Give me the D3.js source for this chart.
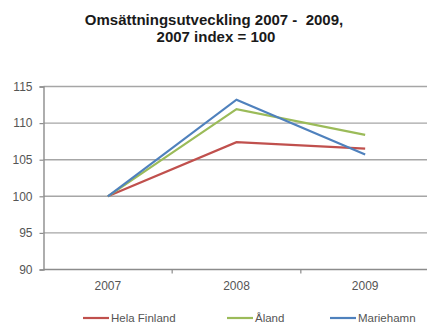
<!DOCTYPE html>
<html>
<head>
<meta charset="utf-8">
<script src="https://cdn.jsdelivr.net/npm/d3@7"></script>
<style>
  html, body { margin: 0; padding: 0; background: #fff; }
  svg { display: block; font-family: "Liberation Sans", Arial, sans-serif; }
</style>
</head>
<body>
<svg id="chart" width="427" height="324"></svg>
<script>
// Turnover development, index 2007 = 100
const years = ["2007", "2008", "2009"];
const helaFinland = [100, 107.4, 106.5];
const aland = [100, 111.9, 108.4];
const mariehamn = [100, 113.2, 105.7];
const yTicks = [90, 95, 100, 105, 110, 115];
const seriesNames = ["Hela Finland", "Åland", "Mariehamn"];

const series = [
  { name: seriesNames[0], values: helaFinland, color: "#C0504D" },
  { name: seriesNames[1], values: aland, color: "#9BBB59" },
  { name: seriesNames[2], values: mariehamn, color: "#4F81BD" }
];

const svg = d3.select("#chart");
const plot = { left: 43.5, right: 429.5, top: 86.5, bottom: 269.5 };

const x = d3.scaleBand().domain(years).range([plot.left, plot.right]);
const y = d3.scaleLinear().domain([90, 115]).range([plot.bottom, plot.top]);

// Title (two lines, spaces kept as typed)
const title = svg.append("text")
  .attr("text-anchor", "middle").style("white-space", "pre")
  .attr("font-weight", "bold").attr("font-size", 15).attr("fill", "#1a1a1a");
title.append("tspan").attr("x", 214).attr("y", 25).text("Omsättningsutveckling 2007 -  2009,");
title.append("tspan").attr("x", 216).attr("y", 42).text("2007 index = 100");

// Horizontal gridlines
svg.append("g").selectAll("line").data(yTicks.filter(d => d !== 90)).join("line")
  .attr("x1", plot.left).attr("x2", plot.right)
  .attr("y1", d => y(d)).attr("y2", d => y(d))
  .attr("stroke", "#a6a6a6").attr("stroke-width", 1.4);

// Y axis
const yAxis = svg.append("g").attr("transform", `translate(${plot.left},0)`)
  .call(d3.axisLeft(y).tickValues(yTicks).tickSize(4).tickPadding(7));
yAxis.select(".domain").attr("stroke", "#8c8c8c").attr("stroke-width", 1.4);
yAxis.selectAll(".tick line").attr("stroke", "#8c8c8c").attr("stroke-width", 1.2);
yAxis.selectAll("text").attr("font-size", 12).attr("fill", "#555")
  .attr("font-family", "Liberation Sans, Arial, sans-serif");

// X axis with ticks on the category boundaries
const xAxisG = svg.append("g").attr("transform", `translate(0,${plot.bottom})`);
xAxisG.append("line").attr("x1", plot.left).attr("x2", plot.right).attr("y1", 0).attr("y2", 0)
  .attr("stroke", "#8c8c8c").attr("stroke-width", 1.4);
xAxisG.selectAll("line.b").data(years.slice(1)).join("line").attr("class", "b")
  .attr("x1", d => x(d)).attr("x2", d => x(d)).attr("y1", 0).attr("y2", 4)
  .attr("stroke", "#8c8c8c").attr("stroke-width", 1.2);
xAxisG.selectAll("text").data(years).join("text")
  .attr("x", d => x(d) + x.bandwidth() / 2).attr("y", 20)
  .attr("text-anchor", "middle").attr("font-size", 12).attr("fill", "#555")
  .text(d => d);

// Lines
const line = d3.line()
  .x((d, i) => x(years[i]) + x.bandwidth() / 2)
  .y(d => y(d));
svg.append("g").selectAll("path").data(series).join("path")
  .attr("d", d => line(d.values))
  .attr("fill", "none").attr("stroke", d => d.color)
  .attr("stroke-width", 2.2).attr("stroke-linejoin", "miter");

// Legend
const legendX = [83, 227, 330];
const legend = svg.append("g").selectAll("g").data(series).join("g")
  .attr("transform", (d, i) => `translate(${legendX[i]},318)`);
legend.append("line").attr("x1", 0).attr("x2", 26).attr("y1", 0).attr("y2", 0)
  .attr("stroke", d => d.color).attr("stroke-width", 2.2);
legend.append("text").attr("x", 28).attr("y", 3.5).attr("font-size", 11.5)
  .attr("fill", "#555").text(d => d.name);
</script>
</body>
</html>
